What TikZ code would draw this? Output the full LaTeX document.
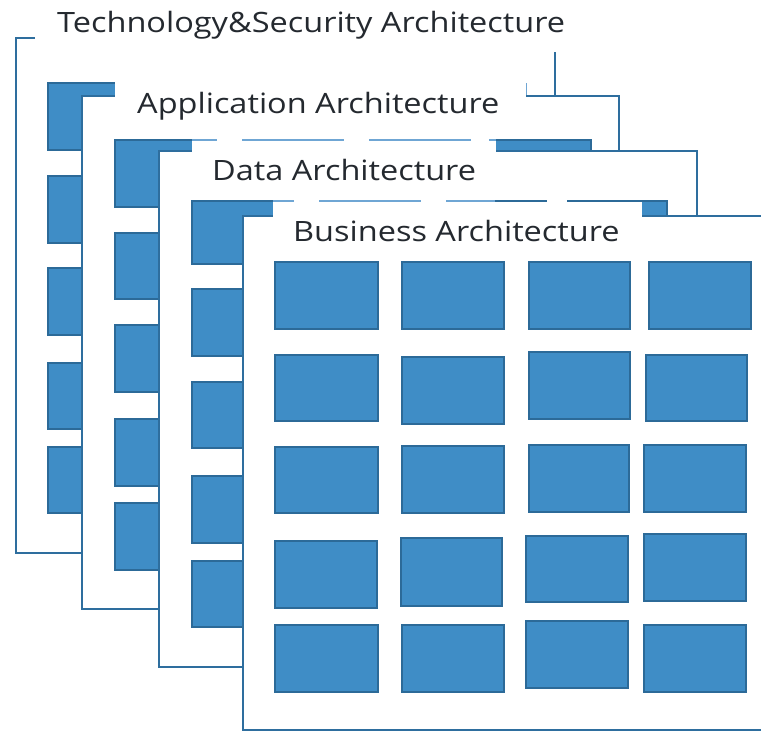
\documentclass[tikz,border=0pt]{standalone}
\usepackage{fontspec}
\setmainfont{Open Sans}
\newfontfamily\ttlfont[FakeStretch=1.16]{Open Sans}
\definecolor{frame}{HTML}{2E6E9E}
\definecolor{blockfill}{HTML}{3F8DC6}
\definecolor{blockline}{HTML}{2C6A98}
\definecolor{ghost}{HTML}{6FA6D4}
\definecolor{titletext}{HTML}{24292F}
\tikzset{
  panel/.style={fill=white, draw=frame, line width=1.6pt},
  blk/.style={fill=blockfill, draw=blockline, line width=1.3pt},
  cover/.style={fill=white},
  ttl/.style={anchor=base west, inner sep=0pt, text=titletext, font=\ttlfont\fontsize{28}{30}\selectfont},
  ghostline/.style={draw=ghost, line width=1.2pt},
  edgeline/.style={draw=blockline, line width=1.4pt},
}
\begin{document}
\begin{tikzpicture}[x=1pt,y=-1pt]
\useasboundingbox (0,0) rectangle (761,731);
\fill[white] (0,0) rectangle (761,731);
% ---- Technology & Security layer
\draw[panel] (16,38) rectangle (555,553);
\foreach \a/\b in {83/150,176/243,268/335,363/429,447/513}
  \draw[blk] (48,\a) rectangle (150,\b);
\fill[cover] (35,0) rectangle (580,52);
\node[ttl] (tech) at (57,32) {Technology\&Security Architecture};
% ---- Application layer
\draw[panel] (82,96) rectangle (619,609);
\foreach \x in {115,242,369,489}
  \foreach \a/\b in {140/207,233/299,325/392,419/486,503/570}
    \draw[blk] (\x,\a) rectangle ({\x+102},\b);
\fill[cover] (115,76) rectangle (526,138);
\draw[ghostline] (526.5,83) -- (526.5,95);
\node[ttl] (app) at (137,113) {Application Architecture};
% ---- Data layer
\draw[panel] (159,151) rectangle (697,667);
\foreach \x/\w in {192/102,319/102,446/101,566/101}
  \foreach \a/\b in {201/264,289/356,382/448,476/543,561/627}
    \draw[blk] (\x,\a) rectangle ({\x+\w},\b);
\fill[cover] (192,139) rectangle (496,199);
\foreach \p/\q in {192/217,242/344,369/471,489/496}
  \draw[ghostline] (\p,140) -- (\q,140);
\node[ttl] (data) at (212,180) {Data Architecture};
% ---- Business layer
\draw[panel] (243,216) rectangle (790,730);
\foreach \x/\y/\w/\h in {
  275/262/103/67, 275/355/103/66, 275/447/103/66, 275/541/102/67, 275/625/103/67,
  402/262/102/67, 402/357/102/67, 402/446/102/67, 401/538/101/68, 402/625/102/67,
  529/262/101/67, 529/352/101/67, 529/445/100/67, 526/536/102/66, 526/621/102/67,
  649/262/102/67, 646/355/101/66, 644/445/102/67, 644/534/102/67, 644/625/102/67}
  \draw[blk] (\x,\y) rectangle ({\x+\w},{\y+\h});
\fill[cover] (273,200) rectangle (642,258);
\foreach \p/\q in {273/294,319/421,446/495}
  \draw[ghostline] (\p,201) -- (\q,201);
\foreach \p/\q in {495/547,567/642}
  \draw[edgeline] (\p,201) -- (\q,201);
\node[ttl] (bus) at (293,241) {Business Architecture};
\end{tikzpicture}
\end{document}
